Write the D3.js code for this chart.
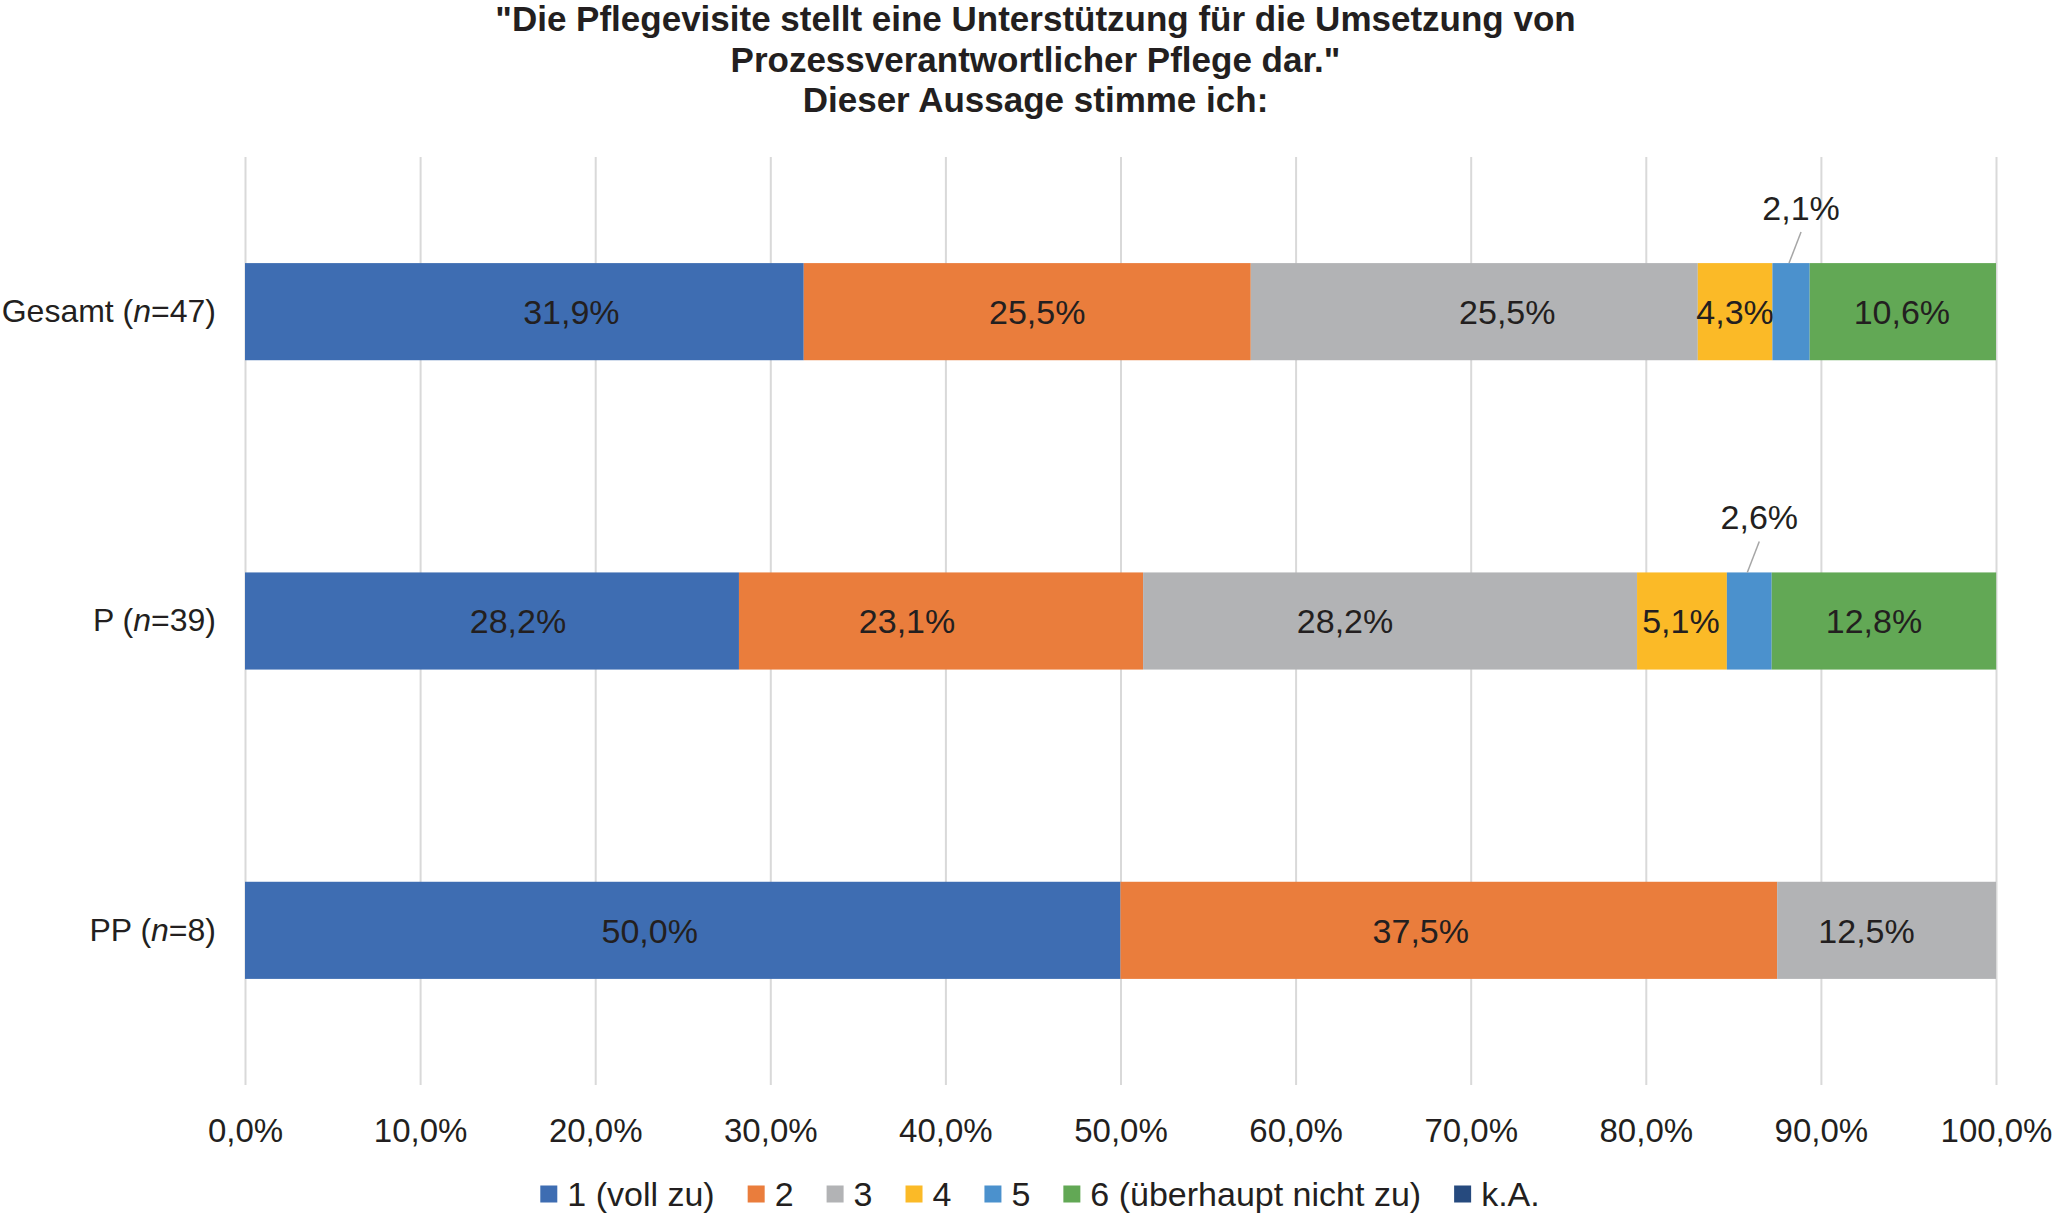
<!DOCTYPE html>
<html>
<head>
<meta charset="utf-8">
<script src="https://cdn.jsdelivr.net/npm/d3@7"></script>
<style>
  body { margin: 0; background: #fff; }
  svg { font-family: "Liberation Sans", Arial, sans-serif; }
</style>
</head>
<body>
<div id="chart"></div>
<script>
// values (percent of respondents)
const groups = ["Gesamt", "P", "PP"];
const groupN = [47, 39, 8];
const answers = ["1 (voll zu)", "2", "3", "4", "5", "6 (überhaupt nicht zu)", "k.A."];
const gesamtValues = [31.91, 25.53, 25.53, 4.26, 2.13, 10.64, 0];
const pValues = [28.21, 23.08, 28.21, 5.13, 2.56, 12.82, 0];
const ppValues = [50.0, 37.5, 12.5, 0, 0, 0, 0];
const xTicks = [0, 10, 20, 30, 40, 50, 60, 70, 80, 90, 100];
const titleLines = [
    "\"Die Pflegevisite stellt eine Unterstützung für die Umsetzung von",
    "Prozessverantwortlicher Pflege dar.\"",
    "Dieser Aussage stimme ich:"
];

const colors = ["#3e6db2", "#ea7d3c", "#b2b3b5", "#fbba27", "#4b91cd", "#62a855", "#264a7e"];
// the labels in the original were dragged by hand a little off centre (px)
const labelShift = [
    [47, 10, 33, 0, 0, -1, 0],
    [26, -34, -45, -1, 0, -10, 0],
    [-33, -28, -20, 0, 0, 0, 0]
];

const rows = [gesamtValues, pValues, ppValues].map((vals, i) => {
    const row = { group: groups[i], n: groupN[i] };
    answers.forEach((a, j) => row[a] = vals[j]);
    return row;
});

const W = 2055, H = 1217;
const plot = { left: 245, right: 1996, top: 157, bottom: 1085 };
const textColor = "#231f20";

const de = d3.formatLocale({ decimal: ",", thousands: ".", grouping: [3], currency: ["", " €"] });
const pct = v => de.format(".1f")(v) + "%";

const svg = d3.select("#chart").append("svg")
    .attr("width", W)
    .attr("height", H);

const x = d3.scaleLinear().domain([0, 100]).range([plot.left, plot.right]);
const y = d3.scaleBand()
    .domain(groups)
    .range([plot.top, plot.bottom])
    .paddingInner(0.686)
    .paddingOuter(0.343);

// title
svg.append("g").selectAll("text")
    .data(titleLines)
    .join("text")
    .attr("x", W / 2 + 8)
    .attr("y", (d, i) => 31 + i * 40.5)
    .attr("text-anchor", "middle")
    .attr("font-weight", "bold")
    .attr("font-size", 35)
    .attr("fill", textColor)
    .text(d => d);

// gridlines
svg.append("g")
    .attr("transform", `translate(0,${plot.bottom})`)
    .call(d3.axisBottom(x).tickValues(xTicks).tickSize(-(plot.bottom - plot.top)).tickFormat(""))
    .call(g => g.select(".domain").remove())
    .call(g => g.selectAll("line").attr("stroke", "#d9d9d9").attr("stroke-width", 2));

// tick labels
svg.append("g")
    .attr("transform", `translate(0,${plot.bottom})`)
    .call(d3.axisBottom(x).tickValues(xTicks).tickSize(0).tickPadding(34).tickFormat(pct))
    .call(g => g.select(".domain").remove())
    .call(g => g.selectAll("text")
        .attr("font-size", 33)
        .attr("font-family", "Liberation Sans, Arial, sans-serif")
        .attr("fill", textColor));

// category labels
const yAxis = svg.append("g")
    .attr("transform", `translate(${plot.left},0)`)
    .call(d3.axisLeft(y).tickSize(0).tickPadding(29))
    .call(g => g.select(".domain").remove());
yAxis.selectAll("text")
    .attr("font-size", 32)
    .attr("font-family", "Liberation Sans, Arial, sans-serif")
    .attr("fill", textColor)
    .each(function (d, i) {
        const t = d3.select(this).text(null);
        t.append("tspan").text(`${d} (`);
        t.append("tspan").attr("font-style", "italic").text("n");
        t.append("tspan").text(`=${groupN[i]})`);
    });

// stacked bars
const series = d3.stack().keys(answers)(rows);

const layers = svg.append("g").selectAll("g")
    .data(series)
    .join("g")
    .attr("fill", (d, i) => colors[i]);

layers.selectAll("rect")
    .data(d => d.filter(s => s[1] - s[0] > 0))
    .join("rect")
    .attr("x", d => x(d[0]))
    .attr("y", d => y(d.data.group))
    .attr("width", d => x(d[1]) - x(d[0]))
    .attr("height", y.bandwidth());

// data labels
const labels = [];
series.forEach((s, j) => s.forEach((d, i) => {
    const v = d[1] - d[0];
    if (v > 0) labels.push({
        v,
        cx: (x(d[0]) + x(d[1])) / 2,
        shift: labelShift[i][j],
        top: y(d.data.group),
        mid: y(d.data.group) + y.bandwidth() / 2
    });
}));

const lg = svg.append("g")
    .attr("font-size", 34)
    .attr("fill", textColor);

labels.filter(d => d.v >= 3).forEach(d => {
    lg.append("text")
        .attr("x", d.cx + d.shift)
        .attr("y", d.mid)
        .attr("dy", "0.36em")
        .attr("text-anchor", "middle")
        .text(pct(d.v));
});

// small segments: label above with leader line
labels.filter(d => d.v < 3).forEach(d => {
    lg.append("line")
        .attr("x1", d.cx - 2).attr("y1", d.top)
        .attr("x2", d.cx + 10).attr("y2", d.top - 31)
        .attr("stroke", "#a6a6a6")
        .attr("stroke-width", 1.5);
    lg.append("text")
        .attr("x", d.cx + 10)
        .attr("y", d.top - 43)
        .attr("text-anchor", "middle")
        .text(pct(d.v));
});

// legend
const legend = svg.append("g")
    .attr("font-size", 34)
    .attr("fill", textColor);
let lx = 0;
answers.forEach((a, i) => {
    const item = legend.append("g").attr("transform", `translate(${lx},0)`);
    item.append("rect")
        .attr("x", 0).attr("y", -8.5)
        .attr("width", 17).attr("height", 17)
        .attr("fill", colors[i]);
    const t = item.append("text")
        .attr("x", 27)
        .attr("y", 12)
        .text(a);
    lx += 27 + t.node().getComputedTextLength() + 33;
});
const legendWidth = lx - 33;
legend.attr("transform", `translate(${1040 - legendWidth / 2},1194)`);
</script>
</body>
</html>
